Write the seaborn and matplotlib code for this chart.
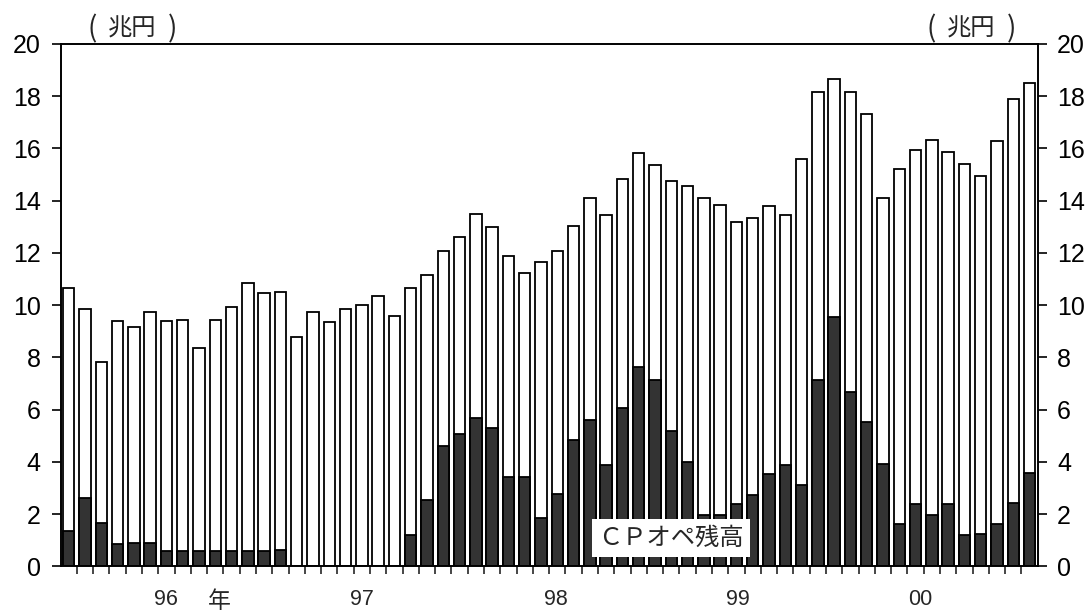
import matplotlib
matplotlib.use("Agg")
import matplotlib.pyplot as plt
import seaborn as sns
import numpy as np
import pandas as pd

# Monthly outstanding amounts (trillion yen), Jan 1996 - Dec 2000
months = [f"{y}-{m:02d}" for y in range(1996, 2001) for m in range(1, 13)]

total = [10.67, 9.84, 7.84, 9.40, 9.16, 9.75, 9.39, 9.42, 8.36, 9.45, 9.93, 10.85,
         10.46, 10.52, 8.77, 9.75, 9.37, 9.87, 10.00, 10.34, 9.57, 10.66, 11.14, 12.06,
         12.61, 13.49, 13.01, 11.88, 11.23, 11.67, 12.06, 13.04, 14.12, 13.46, 14.83, 15.84,
         15.37, 14.74, 14.56, 14.11, 13.84, 13.17, 13.34, 13.81, 13.46, 15.60, 18.16, 18.64,
         18.16, 17.33, 14.12, 15.21, 15.95, 16.32, 15.86, 15.40, 14.95, 16.28, 17.90, 18.51]

cp_ope = [1.36, 2.61, 1.66, 0.86, 0.90, 0.90, 0.60, 0.60, 0.60, 0.60, 0.60, 0.60,
          0.60, 0.63, 0.0, 0.0, 0.0, 0.0, 0.0, 0.0, 0.0, 1.19, 2.56, 4.61,
          5.05, 5.68, 5.29, 3.42, 3.42, 1.87, 2.79, 4.82, 5.61, 3.89, 6.07, 7.64,
          7.14, 5.17, 3.99, 1.96, 1.96, 2.37, 2.74, 3.54, 3.90, 3.13, 7.14, 9.53,
          6.69, 5.53, 3.92, 1.61, 2.38, 1.96, 2.38, 1.21, 1.24, 1.61, 2.41, 3.59]

year_labels = ["96", "97", "98", "99", "00"]
year_pos = [6.0, 18.0, 29.9, 41.1, 52.3]

df = pd.DataFrame({"month": months, "total": total, "cp": cp_ope})

sns.set_style("ticks")
plt.rcParams["font.family"] = ["Liberation Sans", "Noto Sans CJK JP"]
plt.rcParams["axes.linewidth"] = 1.2
cjk = ["Noto Sans CJK JP"]

fig = plt.figure(figsize=(10.9, 6.15), dpi=100)
ax = fig.add_axes([0.056, 0.079, 0.8963, 0.8496])

sns.barplot(data=df, x="month", y="total", color="white", edgecolor="black",
            linewidth=1.3, width=0.7, saturation=1, ax=ax, zorder=2)
sns.barplot(data=df, x="month", y="cp", color="#333333", edgecolor="black",
            linewidth=1.3, width=0.7, saturation=1, ax=ax, zorder=3)

ax.set_xlim(-0.47, 59.52)
ax.set_ylim(0, 20)
ax.set_xlabel("")
ax.set_ylabel("")

# y axis (left)
ax.set_yticks(np.arange(0, 21, 2))
ax.tick_params(axis="y", direction="out", length=6.7, width=1.2,
               labelsize=18, pad=8, colors="black")

# x axis: year labels + minor ticks between bars
ax.set_xticks(year_pos)
ax.set_xticklabels(year_labels)
ax.set_xticks(np.arange(0.5, 59, 1), minor=True)
ax.tick_params(axis="x", which="major", length=0, labelsize=15.5, pad=16)
ax.tick_params(axis="x", which="minor", direction="out", length=5.5, width=1.2)

for s in ax.spines.values():
    s.set_color("black")
    s.set_linewidth(1.2)

# right axis
ax2 = ax.twinx()
ax2.set_ylim(0, 20)
ax2.set_yticks(np.arange(0, 21, 2))
ax2.tick_params(axis="y", direction="out", length=6.7, width=1.2,
                labelsize=18, pad=7, colors="black")
ax2.grid(False)
for s in ax2.spines.values():
    s.set_color("black")
    s.set_linewidth(1.2)


def unit_label(xc):
    """'( 兆円 )' with spaced brackets like the original."""
    y = 1 - 29 / 615
    fig.text((xc - 40) / 1090, y, "(", ha="center", va="center", fontsize=20, family=cjk)
    fig.text(xc / 1090, y, "兆円", ha="center", va="center", fontsize=17.5, family=cjk)
    fig.text((xc + 41) / 1090, y, ")", ha="center", va="center", fontsize=20, family=cjk)


unit_label(132)
unit_label(971)
fig.text(219 / 1090, 1 - 601 / 615, "年", ha="center", va="center",
         fontsize=16.5, family=cjk)

ax.text(37.0, 1.1, "ＣＰオペ残高", ha="center", va="center", fontsize=17.5,
        family=cjk, zorder=6,
        bbox=dict(boxstyle="square,pad=0.25", facecolor="white", edgecolor="none"))

plt.savefig("out.png", dpi=100)
plt.close()
